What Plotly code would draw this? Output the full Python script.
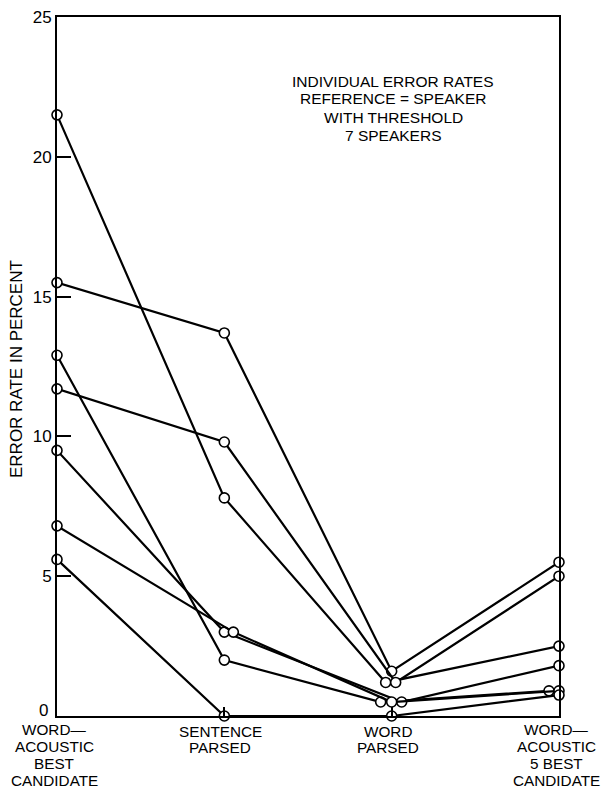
import plotly.graph_objects as go

# ---------------- data ----------------
category_lines = [
    ["WORD—", "ACOUSTIC", "BEST", "CANDIDATE"],
    ["SENTENCE", "PARSED"],
    ["WORD", "PARSED"],
    ["WORD—", "ACOUSTIC", "5 BEST", "CANDIDATE"],
]
speaker_1 = [21.5, 7.8, 1.2, 2.5]
speaker_2 = [15.5, 13.7, 1.6, 5.5]
speaker_3 = [11.7, 9.8, 1.2, 5.0]
speaker_4 = [12.9, 2.0, 0.5, 0.9]
speaker_5 = [9.5, 3.0, 0.5, 1.8]
speaker_6 = [6.8, 3.0, 0.5, 0.9]
speaker_7 = [5.6, 0.0, 0.0, 0.75]
speakers = [speaker_1, speaker_2, speaker_3, speaker_4, speaker_5, speaker_6, speaker_7]
y_ticks = [0, 5, 10, 15, 20, 25]
note_lines = ["INDIVIDUAL ERROR RATES", "REFERENCE = SPEAKER", "WITH THRESHOLD", "7 SPEAKERS"]
y_title = "ERROR RATE IN PERCENT"

# small horizontal dodges (pixels) so coincident circles stay visible
dodge_px = [
    [0, 0, -6, 0],
    [0, 0, 0, 0],
    [0, 0, 4, 0],
    [0, 0, -11, -10],
    [0, 0, 10, 0],
    [0, 9, 0, 0],
    [0, 0, 0, 0],
]

# ---------------- layout geometry (page pixels) ----------------
W, H = 604, 791
PL, PR, PT, PB = 57, 559, 17, 716   # plot box in page pixels
ML, MT, MR, MB = PL, PT, W - PR, H - PB
plot_w, plot_h = PR - PL, PB - PT
px_per_unit = plot_w / 3.0
FONT = "Liberation Sans, Arial, Helvetica, sans-serif"


def px(xp):
    return (xp - PL) / plot_w


def py(yp):
    return (PB - yp) / plot_h


fig = go.Figure()
for vals, dp in zip(speakers, dodge_px):
    xs = [i + d / px_per_unit for i, d in enumerate(dp)]
    fig.add_trace(go.Scatter(
        x=xs, y=vals, mode="lines+markers",
        line=dict(color="black", width=2.2),
        marker=dict(symbol="circle", size=10, color="white",
                    line=dict(color="black", width=1.6)),
        cliponaxis=False, showlegend=False, hoverinfo="skip",
    ))

fig.update_xaxes(
    range=[0, 3], showgrid=False, zeroline=False, automargin=False,
    showline=True, linecolor="black", linewidth=2, mirror=True,
    tickvals=[1, 2], ticktext=["", ""], ticks="inside", ticklen=9,
    tickcolor="black", tickwidth=1.5, showticklabels=False,
)
fig.update_yaxes(
    range=[0, 25], showgrid=False, zeroline=False, automargin=False,
    showline=True, linecolor="black", linewidth=2, mirror=True,
    tickvals=y_ticks, ticktext=["" if v == 0 else str(v) for v in y_ticks],
    ticks="inside", ticklen=14, tickcolor="black", tickwidth=1.5,
    tickfont=dict(family=FONT, size=17, color="black"),
)

annotations = []
# the "0" label sits slightly above its tick, as in the original
annotations.append(dict(
    x=px(50), y=py(710), xref="paper", yref="paper", text=str(y_ticks[0]),
    showarrow=False, xanchor="right", yanchor="middle",
    font=dict(family=FONT, size=17, color="black"),
))
label_cx = [54, 220, 388, 556]
four_line_y = [729, 746, 763, 780]
two_line_y = [731, 748]
for cx, lines in zip(label_cx, category_lines):
    ys = four_line_y if len(lines) == 4 else two_line_y
    for txt, yy in zip(lines, ys):
        annotations.append(dict(
            x=px(cx), y=py(yy), xref="paper", yref="paper", text=txt,
            showarrow=False, xanchor="center", yanchor="middle",
            font=dict(family=FONT, size=15.3, color="black"),
        ))
for txt, yy in zip(note_lines, [81, 99, 117, 135]):
    annotations.append(dict(
        x=px(393), y=py(yy), xref="paper", yref="paper", text=txt,
        showarrow=False, xanchor="center", yanchor="middle",
        font=dict(family=FONT, size=15.5, color="black"),
    ))
annotations.append(dict(
    x=px(16), y=py(369), xref="paper", yref="paper", text=y_title,
    textangle=-90, showarrow=False, xanchor="center", yanchor="middle",
    font=dict(family=FONT, size=17, color="black"),
))

fig.update_layout(
    width=W, height=H,
    margin=dict(l=ML, r=MR, t=MT, b=MB, autoexpand=False),
    paper_bgcolor="white", plot_bgcolor="white",
    annotations=annotations,
)

# remove the browser's default 8px body margin so the figure fills the window
fig.write_html("out.html", config={"displayModeBar": False},
               post_script="document.body.style.margin='0px';")
